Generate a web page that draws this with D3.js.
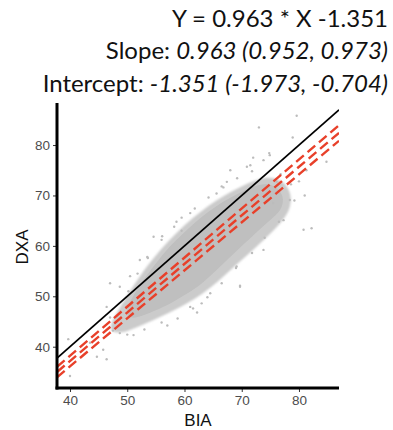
<!DOCTYPE html>
<html>
<head>
<meta charset="utf-8">
<script src="https://cdn.jsdelivr.net/npm/d3@7.9.0/dist/d3.min.js"></script>
<style>
  body { margin: 0; background: #fff; }
  svg { display: block; }
</style>
</head>
<body>
<svg width="393" height="430"></svg>
<script>
// fit results shown in the header
const fitSlope = 0.963, fitIntercept = -1.351;
const slopeCI = [0.952, 0.973];
const interceptCI = [-1.973, -0.704];

const xTicks = [40, 50, 60, 70, 80];
const yTicks = [40, 50, 60, 70, 80];

// dense part of the point cloud, outline in (BIA, DXA)
const cloudCore = [
  [49.5, 47.0], [51.5, 51.0], [53.5, 54.3], [55.5, 57.3], [58.0, 60.6], [60.5, 63.3],
  [63.0, 65.8], [65.5, 67.9], [68.0, 69.6], [70.5, 71.0], [73.0, 72.3], [75.5, 72.3],
  [77.5, 70.0], [77.0, 67.0], [74.8, 65.0], [72.5, 62.6], [70.3, 60.3], [68.0, 57.8],
  [65.6, 55.2], [63.3, 52.7], [60.5, 50.5], [57.5, 48.5], [55.0, 47.2], [52.5, 46.0],
  [50.5, 45.5]
];
// thinner fringe around it
const cloudFringe = [
  [46.5, 43.0], [48.0, 46.5], [50.2, 50.5], [52.3, 54.2], [54.5, 57.5], [57.2, 61.0],
  [60.0, 64.2], [62.8, 66.8], [65.5, 69.0], [68.2, 70.8], [71.0, 72.4], [74.0, 73.8],
  [77.0, 73.3], [78.8, 70.5], [78.5, 66.8], [76.0, 63.5], [73.2, 60.5], [70.8, 58.0],
  [68.3, 55.5], [65.8, 52.8], [63.2, 50.5], [60.4, 48.5], [57.5, 46.8], [54.5, 45.2],
  [51.5, 43.8], [49.0, 42.6]
];

// scattered points outside the dense area
const outX = [79.6, 73.0, 78.9, 74.8, 84.8, 39.7, 40.0, 46.4, 56.1, 63.0, 69.7, 74.9, 70.9,
  68.0, 67.4, 65.6, 61.0, 58.6, 54.6, 52.2, 47.0, 48.7, 46.4, 45.8, 44.7, 48.7, 51.1, 61.0,
  64.5, 69.7, 69.1, 73.8, 77.3, 80.8, 82.2, 78.4, 81.3, 73.8, 76.1, 50.5, 53.5, 59.5, 66.5,
  71.5, 75.5, 62.2, 57.0, 43.5,
  50.2, 51.8, 53.6, 56.0, 58.2, 59.5, 61.8, 64.2, 66.8, 69.2, 71.8, 76.8, 78.6, 79.2, 76.5,
  74.0, 71.8, 69.0, 66.5, 64.0, 61.5, 58.8, 56.0, 53.0, 50.0, 47.5, 47.0, 81.0, 80.0, 72.0];
const outY = [85.8, 83.5, 81.5, 78.4, 76.7, 41.5, 34.2, 37.5, 61.9, 48.6, 52.1, 78.0, 75.7,
  75.0, 72.7, 70.4, 66.5, 64.8, 61.8, 57.2, 52.6, 51.9, 47.9, 39.4, 38.0, 42.7, 42.3, 47.9,
  50.6, 51.9, 55.9, 59.2, 65.1, 63.2, 63.5, 69.1, 75.0, 77.0, 72.7, 54.0, 57.8, 63.0, 71.8,
  76.0, 68.5, 46.8, 44.2, 40.8,
  51.0, 54.5, 57.6, 61.2, 63.8, 65.6, 67.4, 69.6, 71.6, 73.4, 74.8, 74.2, 72.2, 69.0, 64.8,
  61.6, 58.6, 55.6, 52.6, 49.8, 47.6, 45.6, 44.8, 43.4, 42.4, 43.2, 45.8, 70.0, 72.8, 77.5];

const svg = d3.select("svg");

const x = d3.scaleLinear().domain([37.73, 86.99]).range([57, 339]);
const y = d3.scaleLinear().domain([31.81, 88.34]).range([388, 103]);

// header text
const header = svg.append("text")
  .attr("text-anchor", "end")
  .attr("font-family", "Lato, 'Open Sans', sans-serif")
  .attr("font-size", 24)
  .attr("fill", "#111");
header.append("tspan").attr("x", 388).attr("y", 27).text(`Y = ${fitSlope} * X ${fitIntercept}`);
const l2 = header.append("tspan").attr("x", 388).attr("y", 59);
l2.append("tspan").text("Slope: ");
l2.append("tspan").attr("font-style", "italic").text(`${fitSlope} (${slopeCI[0]}, ${slopeCI[1]})`);
const l3 = header.append("tspan").attr("x", 388).attr("y", 92);
l3.append("tspan").text("Intercept: ");
l3.append("tspan").attr("font-style", "italic").text(`${fitIntercept} (${interceptCI[0]}, ${interceptCI[1]})`);

const defs = svg.append("defs");
defs.append("clipPath").attr("id", "panel").append("rect")
  .attr("x", 57).attr("y", 103).attr("width", 282).attr("height", 285);
defs.append("filter").attr("id", "soft").attr("x", "-20%").attr("y", "-20%")
  .attr("width", "140%").attr("height", "140%")
  .append("feGaussianBlur").attr("stdDeviation", 1.2);
defs.append("filter").attr("id", "soft2")
  .append("feGaussianBlur").attr("stdDeviation", 0.6);

const panel = svg.append("g").attr("clip-path", "url(#panel)");

const poly = d3.line().x(d => x(d[0])).y(d => y(d[1])).curve(d3.curveBasisClosed);

panel.append("path").attr("d", poly(cloudFringe)).attr("fill", "#cbcbcb")
  .attr("filter", "url(#soft)");
panel.append("path").attr("d", poly(cloudCore)).attr("fill", "#bfbfbf")
  .attr("filter", "url(#soft2)");

panel.selectAll("circle.out").data(outX.map((v, i) => [v, outY[i]]))
  .join("circle")
  .attr("class", "out")
  .attr("cx", d => x(d[0])).attr("cy", d => y(d[1]))
  .attr("r", 1.2).attr("fill", "#bcbcbc");

const xd = x.domain();
function abline(a, b, color, width, dash) {
  panel.append("line")
    .attr("x1", x(xd[0])).attr("y1", y(a + b * xd[0]))
    .attr("x2", x(xd[1])).attr("y2", y(a + b * xd[1]))
    .attr("stroke", color).attr("stroke-width", width)
    .attr("stroke-dasharray", dash);
}
abline(0, 1, "#000", 1.8, null);
abline(interceptCI[0], slopeCI[0], "#e8402a", 2.4, "10,5");
abline(fitIntercept, fitSlope, "#e8402a", 2.4, "10,5");
abline(interceptCI[1], slopeCI[1], "#e8402a", 2.4, "10,5");

// axes
const xAxis = svg.append("g").attr("transform", "translate(0,388)")
  .call(d3.axisBottom(x).tickValues(xTicks).tickSize(4).tickPadding(3));
const yAxis = svg.append("g").attr("transform", "translate(57,0)")
  .call(d3.axisLeft(y).tickValues(yTicks).tickSize(4).tickPadding(3));
[xAxis, yAxis].forEach(g => {
  g.select(".domain").remove();
  g.selectAll(".tick line").attr("stroke", "#333");
  g.selectAll(".tick text").attr("fill", "#4d4d4d")
    .attr("font-family", "'Liberation Sans', Arial, sans-serif").attr("font-size", 13.5);
});

svg.append("line").attr("x1", 57).attr("x2", 57).attr("y1", 103).attr("y2", 389.5)
  .attr("stroke", "#000").attr("stroke-width", 3);
svg.append("line").attr("x1", 55.5).attr("x2", 339).attr("y1", 388).attr("y2", 388)
  .attr("stroke", "#000").attr("stroke-width", 3);

svg.append("text").attr("x", 198).attr("y", 426).attr("text-anchor", "middle")
  .attr("font-family", "'Liberation Sans', Arial, sans-serif").attr("font-size", 17)
  .attr("fill", "#111").text("BIA");
svg.append("text").attr("transform", "translate(28,247) rotate(-90)").attr("text-anchor", "middle")
  .attr("font-family", "'Liberation Sans', Arial, sans-serif").attr("font-size", 17)
  .attr("fill", "#111").text("DXA");
</script>
</body>
</html>
